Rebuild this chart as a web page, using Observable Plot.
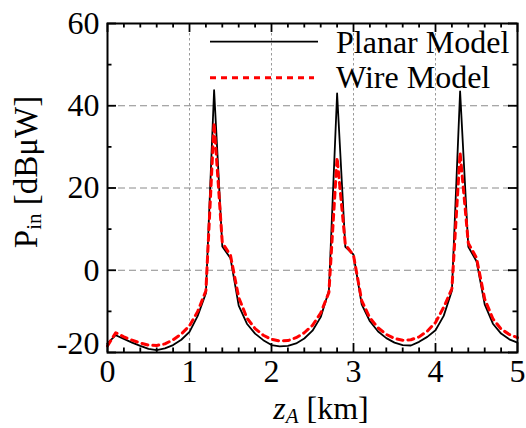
<!DOCTYPE html>
<html><head><meta charset="utf-8">
<script src="https://cdn.jsdelivr.net/npm/d3@7"></script>
<script src="https://cdn.jsdelivr.net/npm/@observablehq/plot@0.6"></script>
<style>body{margin:0;background:#fff} svg{display:block}</style>
</head><body><div id="chart"></div>
<script>
const distanceKm = [0.0,0.1,0.2,0.3,0.4,0.5,0.6,0.7,0.8,0.9,1.0,1.1,1.2,1.3,1.4,1.5,1.6,1.7,1.8,1.9,2.0,2.1,2.2,2.3,2.4,2.5,2.6,2.7,2.8,2.9,3.0,3.1,3.2,3.3,3.4,3.5,3.6,3.7,3.8,3.9,4.0,4.1,4.2,4.3,4.4,4.5,4.6,4.7,4.8,4.9,5.0];
const planarModel = [-17.8,-15.8,-16.7,-17.6,-18.4,-19.1,-19.4,-19.0,-18.2,-16.9,-15.0,-11.1,-5.6,43.8,5.8,2.9,-8.6,-13.0,-15.4,-17.0,-18.2,-18.5,-18.4,-17.8,-16.6,-14.7,-11.4,-5.0,43.0,5.7,3.8,-8.3,-12.4,-14.9,-16.5,-17.6,-18.2,-18.3,-17.4,-16.2,-14.6,-11.1,-5.0,43.5,5.7,2.2,-8.3,-13.0,-15.4,-16.8,-17.6];
const wireModel = [-18.4,-15.2,-16.2,-17.0,-17.7,-18.2,-18.3,-17.9,-16.9,-15.5,-13.5,-10.0,-5.0,35.8,6.7,3.6,-6.6,-11.6,-14.2,-15.8,-16.8,-17.2,-17.1,-16.4,-15.2,-13.4,-10.4,-5.4,27.4,6.3,3.6,-7.4,-11.6,-14.0,-15.6,-16.6,-17.0,-16.9,-16.2,-14.8,-12.7,-9.0,-4.5,28.6,6.6,3.0,-7.0,-11.8,-14.3,-15.6,-16.4];
const seriesNames = ["Planar Model", "Wire Model"];
const xMajorTicks = [0,1,2,3,4,5];
const xMinorTicks = [0.2,0.4,0.6,0.8,1.2,1.4,1.6,1.8,2.2,2.4,2.6,2.8,3.2,3.4,3.6,3.8,4.2,4.4,4.6,4.8];
const yMajorTicks = [-20,0,20,40,60];
const yMinorTicks = [-10,10,30,50];
const xGridTicks = [1,2,3,4];
const yGridTicks = [0,20,40];
const xAxisTitle = ["z", "A", " [km]"];
const yAxisTitle = ["P", "in", " [dBμW]"];

const font = "Liberation Serif";
const planarRows = distanceKm.map((x, i) => ({x, y: planarModel[i]}));
const wireRows = distanceKm.map((x, i) => ({x, y: wireModel[i]}));
const X0 = 0, X1 = 5, Y0 = -20, Y1 = 60;
const majorLen = 9, minorLen = 4.5, tickW = 1.8;

const plot = Plot.plot({
  width: 526, height: 428,
  marginLeft: 107, marginRight: 9, marginTop: 23, marginBottom: 76,
  style: {fontSize: "32px", background: "#fff", color: "#000"},
  x: {domain: [X0, X1]},
  y: {domain: [Y0, Y1]},
  marks: [
    Plot.gridX(xGridTicks, {stroke: "#9a9a9a", strokeOpacity: 1, strokeWidth: 1, strokeDasharray: "2.5,2.5"}),
    Plot.gridY(yGridTicks, {stroke: "#8a8a8a", strokeOpacity: 1, strokeWidth: 1, strokeDasharray: "7,4"}),
    Plot.line(planarRows, {x: "x", y: "y", stroke: "#000", strokeWidth: 1.8}),
    Plot.line(wireRows, {x: "x", y: "y", stroke: "#ff0000", strokeWidth: 3, strokeDasharray: "6,5"}),
    Plot.ruleX(xMajorTicks, {x: d => d, y1: Y0, y2: Y0, insetTop: -majorLen, strokeWidth: tickW}),
    Plot.ruleX(xMinorTicks, {x: d => d, y1: Y0, y2: Y0, insetTop: -minorLen, strokeWidth: tickW}),
    Plot.ruleX(xMajorTicks, {x: d => d, y1: Y1, y2: Y1, insetBottom: -majorLen, strokeWidth: tickW}),
    Plot.ruleX(xMinorTicks, {x: d => d, y1: Y1, y2: Y1, insetBottom: -minorLen, strokeWidth: tickW}),
    Plot.ruleY(yMajorTicks, {y: d => d, x1: X0, x2: X0, insetRight: -majorLen, strokeWidth: tickW}),
    Plot.ruleY(yMinorTicks, {y: d => d, x1: X0, x2: X0, insetRight: -minorLen, strokeWidth: tickW}),
    Plot.ruleY(yMajorTicks, {y: d => d, x1: X1, x2: X1, insetLeft: -majorLen, strokeWidth: tickW}),
    Plot.ruleY(yMinorTicks, {y: d => d, x1: X1, x2: X1, insetLeft: -minorLen, strokeWidth: tickW}),
    Plot.axisX(xMajorTicks, {tickSize: 0, tickPadding: 7, fontSize: 32, label: null, tickFormat: d => String(d)}),
    Plot.axisY(yMajorTicks.filter(d => d !== Y0), {tickSize: 0, tickPadding: 8, fontSize: 32, label: null, tickFormat: d => String(d)}),
    Plot.axisY([Y0], {tickSize: 0, tickPadding: 8, fontSize: 32, label: null, dy: -9, tickFormat: d => String(d)}),
    Plot.frame({stroke: "#000", strokeWidth: 2})
  ]
});
document.getElementById("chart").appendChild(plot);

const svg = d3.select(plot);
svg.attr("font-family", font);
const yt = svg.append("text")
  .attr("transform", "translate(37,172) rotate(-90)")
  .attr("text-anchor", "middle").attr("font-size", 33).attr("fill", "#000");
yt.append("tspan").text(yAxisTitle[0]);
yt.append("tspan").attr("font-size", 21).attr("dy", 4).text(yAxisTitle[1]);
yt.append("tspan").attr("dy", -4).text(yAxisTitle[2]);
const xt = svg.append("text")
  .attr("x", 321).attr("y", 419)
  .attr("text-anchor", "middle").attr("font-size", 32).attr("fill", "#000");
xt.append("tspan").attr("font-style", "italic").text(xAxisTitle[0]);
xt.append("tspan").attr("font-style", "italic").attr("font-size", 21).attr("dy", 4).text(xAxisTitle[1]);
xt.append("tspan").attr("dy", -4).text(xAxisTitle[2]);
const lg = svg.append("g").attr("font-size", 32).attr("fill", "#000").attr("text-anchor", "start");
lg.append("line").attr("x1", 210).attr("x2", 318).attr("y1", 41.7).attr("y2", 41.7).attr("stroke", "#000").attr("stroke-width", 1.8);
lg.append("text").attr("x", 336).attr("y", 53.3).attr("text-anchor", "start").text(seriesNames[0]);
lg.append("line").attr("x1", 210).attr("x2", 314).attr("y1", 77.7).attr("y2", 77.7).attr("stroke", "#ff0000").attr("stroke-width", 3).attr("stroke-dasharray", "6,5");
lg.append("text").attr("x", 336).attr("y", 88.3).attr("text-anchor", "start").text(seriesNames[1]);
svg.selectAll("text").attr("font-family", font);
</script>
</body></html>
